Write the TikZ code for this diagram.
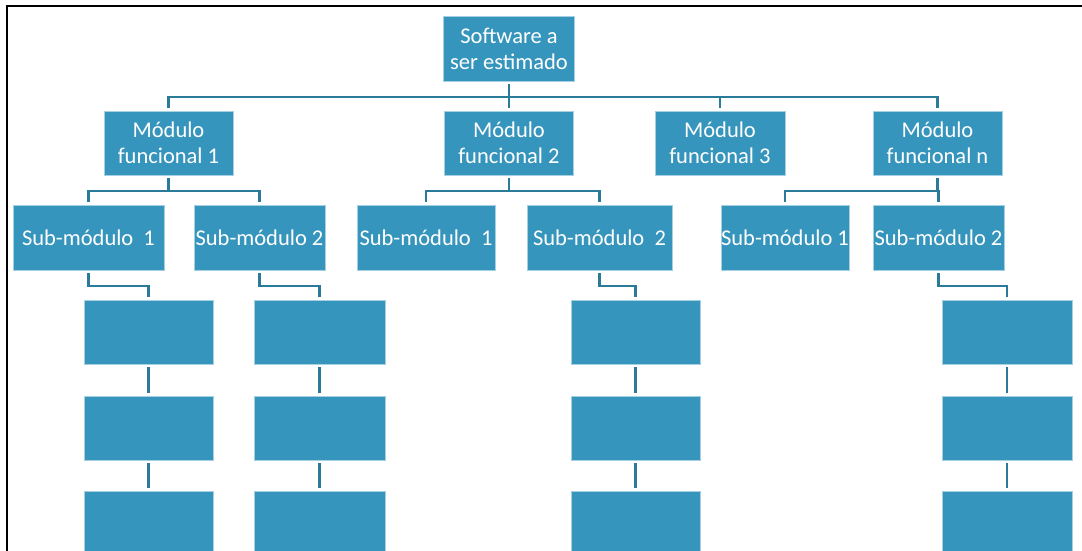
\documentclass[tikz,border=0pt]{standalone}
\usepackage{fontspec}
\setmainfont{Carlito}
\definecolor{boxfill}{RGB}{54,149,188}
\definecolor{boxedge}{RGB}{165,208,226}
\definecolor{linecol}{RGB}{42,122,153}
\tikzset{
  box/.style={rectangle, fill=boxfill, draw=boxedge, line width=0.8pt, inner sep=0pt,
    text=white, align=center, font=\fontsize{22.5}{26}\selectfont, minimum height=65pt},
  conn/.style={draw=linecol, line width=2.9pt, line join=miter}
}
\begin{document}
\begin{tikzpicture}[x=1pt,y=-1pt]
\useasboundingbox (0,0) rectangle (1082,551);
\clip (0,0) rectangle (1082,551);
% frame
\draw[line width=2pt] (7,560) -- (7,6) -- (1090,6);
% bus coordinates
\coordinate (bus1) at (0,97);
\coordinate (bus2) at (0,191);
\coordinate (el) at (0,286);
% level 0
\node[box, minimum width=131pt] (root) at (509,48.5) {Software a\\ser estimado};
% level 1
\node[box, minimum width=129pt, minimum height=64pt] (m1) at (168.5,143) {Módulo\\funcional 1};
\node[box, minimum width=129pt, minimum height=64pt] (m2) at (509,143) {Módulo\\funcional 2};
\node[box, minimum width=130pt, minimum height=64pt] (m3) at (720,143) {Módulo\\funcional 3};
\node[box, minimum width=129pt, minimum height=64pt] (mn) at (937.5,143) {Módulo\\funcional n};
% level 2
\node[box, minimum width=151pt] (s11) at (88.5,237.5) {Sub-módulo\ \ 1};
\node[box, minimum width=131pt] (s12) at (259.5,237.5) {Sub-módulo 2};
\node[box, minimum width=138pt] (s21) at (426,237.5) {Sub-módulo\ \ 1};
\node[box, minimum width=145pt] (s22) at (599.5,237.5) {Sub-módulo\ \ 2};
\node[box, minimum width=128pt] (sn1) at (785,237.5) {Sub-módulo 1};
\node[box, minimum width=131pt] (sn2) at (938.5,237.5) {Sub-módulo 2};
% level 3-5
\foreach \n/\x/\w in {a/148.5/129, b/319.5/131, c/635.5/129, d/1007/130}{
  \node[box, minimum width=\w pt, minimum height=64pt] (\n1) at (\x,332) {};
  \node[box, minimum width=\w pt, minimum height=64pt] (\n2) at (\x,428) {};
  \node[box, minimum width=\w pt, minimum height=64pt] (\n3) at (\x,523) {};
}
% connectors
\draw[conn] ([yshift=-3pt]root.south) -- ([yshift=3pt]m2.north);
\draw[conn] ([yshift=3pt]m1.north) -- (m1.north |- bus1) -- (mn.north |- bus1) -- ([yshift=3pt]mn.north);
\draw[conn] (m3.north |- bus1) -- ([yshift=3pt]m3.north);
% module 1
\draw[conn] ([yshift=-3pt]m1.south) -- (m1.south |- bus2);
\draw[conn] ([yshift=3pt]s11.north) -- (s11.north |- bus2) -- (s12.north |- bus2) -- ([yshift=3pt]s12.north);
% module 2
\draw[conn] ([yshift=-3pt]m2.south) -- (m2.south |- bus2);
\draw[conn] ([yshift=3pt]s21.north) -- (s21.north |- bus2) -- (s22.north |- bus2) -- ([yshift=3pt]s22.north);
% module n
\draw[conn] ([yshift=-3pt]mn.south) -- (mn.south |- bus2);
\draw[conn] ([yshift=3pt]sn1.north) -- (sn1.north |- bus2) -- (sn2.north |- bus2) -- ([yshift=3pt]sn2.north);
% elbows
\draw[conn] ([yshift=-3pt]s11.south) -- (s11.south |- el) -- (a1.north |- el) -- ([yshift=3pt]a1.north);
\draw[conn] ([yshift=-3pt]s12.south) -- (s12.south |- el) -- (b1.north |- el) -- ([yshift=3pt]b1.north);
\draw[conn] ([yshift=-3pt]s22.south) -- (s22.south |- el) -- (c1.north |- el) -- ([yshift=3pt]c1.north);
\draw[conn] ([yshift=-3pt]sn2.south) -- (sn2.south |- el) -- (d1.north |- el) -- ([yshift=3pt]d1.north);
% vertical chains
\foreach \n in {a,b,c,d}{
  \draw[conn, shorten <=3pt, shorten >=3pt] (\n1) -- (\n2);
  \draw[conn, shorten <=3pt, shorten >=3pt] (\n2) -- (\n3);
}
\end{tikzpicture}
\end{document}
